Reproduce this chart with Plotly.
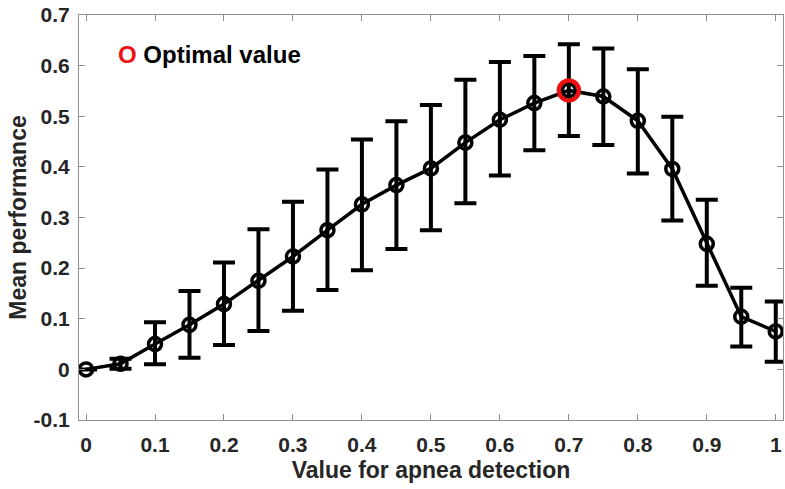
import plotly.graph_objects as go

x_vals = [0, 0.05, 0.1, 0.15, 0.2, 0.25, 0.3, 0.35, 0.4, 0.45, 0.5,
          0.55, 0.6, 0.65, 0.7, 0.75, 0.8, 0.85, 0.9, 0.95, 1.0]
mean_perf = [0.0, 0.011, 0.050, 0.088, 0.129, 0.175, 0.223, 0.275, 0.326, 0.364, 0.397,
             0.448, 0.493, 0.526, 0.551, 0.539, 0.491, 0.396, 0.248, 0.104, 0.075]
err_upper = [0.0, 0.021, 0.093, 0.155, 0.211, 0.277, 0.331, 0.395, 0.454, 0.490, 0.522,
             0.572, 0.607, 0.619, 0.642, 0.634, 0.593, 0.499, 0.335, 0.161, 0.134]
err_lower = [0.0, 0.001, 0.010, 0.023, 0.048, 0.076, 0.116, 0.157, 0.196, 0.238, 0.275,
             0.328, 0.383, 0.433, 0.461, 0.443, 0.387, 0.294, 0.165, 0.045, 0.015]
optimal_x = [0.7]
optimal_y = [0.551]
x_ticks = [0, 0.1, 0.2, 0.3, 0.4, 0.5, 0.6, 0.7, 0.8, 0.9, 1]
x_tick_text = ["0", "0.1", "0.2", "0.3", "0.4", "0.5", "0.6", "0.7", "0.8", "0.9", "1"]
y_ticks = [-0.1, 0, 0.1, 0.2, 0.3, 0.4, 0.5, 0.6, 0.7]
y_tick_text = ["-0.1", "0", "0.1", "0.2", "0.3", "0.4", "0.5", "0.6", "0.7"]

plus = [u - m for u, m in zip(err_upper, mean_perf)]
minus = [m - l for m, l in zip(mean_perf, err_lower)]

FONT = "Liberation Sans, Arial, sans-serif"
TXT = "#262626"
AX = "#8f8f8f"

fig = go.Figure()
fig.add_trace(go.Scatter(
    x=x_vals, y=mean_perf, mode="lines+markers",
    line=dict(color="black", width=3.5),
    marker=dict(symbol="circle-open", size=13, color="black", line=dict(width=3.5, color="black")),
    error_y=dict(type="data", symmetric=False, array=plus, arrayminus=minus,
                 color="black", thickness=4, width=11),
    showlegend=False, hoverinfo="x+y"))
fig.add_trace(go.Scatter(
    x=optimal_x, y=optimal_y, mode="markers",
    marker=dict(symbol="circle-open", size=20, color="#ee1111", line=dict(width=4.5, color="#ee1111")),
    showlegend=False))

fig.add_annotation(
    xref="paper", yref="paper", x=0.052, y=0.903, xanchor="left", yanchor="middle",
    showarrow=False,
    text="<span style='color:#ee1111'>O</span> Optimal value",
    font=dict(family=FONT, size=24, color="black", weight="bold"))

fig.update_layout(
    width=785, height=489,
    margin=dict(l=79, r=2, t=15, b=69),
    paper_bgcolor="white", plot_bgcolor="white",
    font=dict(family=FONT, color=TXT),
    xaxis=dict(
        range=[-0.0102, 1.0105], tickmode="array", tickvals=x_ticks, ticktext=x_tick_text,
        ticks="inside", ticklen=6, tickwidth=1, tickcolor=AX,
        showline=True, linecolor=AX, linewidth=1, mirror="ticks",
        showgrid=False, zeroline=False, ticklabelstandoff=6,
        tickfont=dict(family=FONT, size=21, color=TXT, weight="bold"),
        title=dict(text="Value for apnea detection", standoff=6,
                   font=dict(family=FONT, size=23, color=TXT, weight="bold"))),
    yaxis=dict(
        range=[-0.1, 0.7], tickmode="array", tickvals=y_ticks, ticktext=y_tick_text,
        ticks="inside", ticklen=6, tickwidth=1, tickcolor=AX,
        showline=True, linecolor=AX, linewidth=1, mirror="ticks",
        showgrid=False, zeroline=False, ticklabelstandoff=4,
        tickfont=dict(family=FONT, size=21, color=TXT, weight="bold"),
        title=dict(text="Mean performance", standoff=0,
                   font=dict(family=FONT, size=23, color=TXT, weight="bold"))),
)

fig.write_html("out.html")
